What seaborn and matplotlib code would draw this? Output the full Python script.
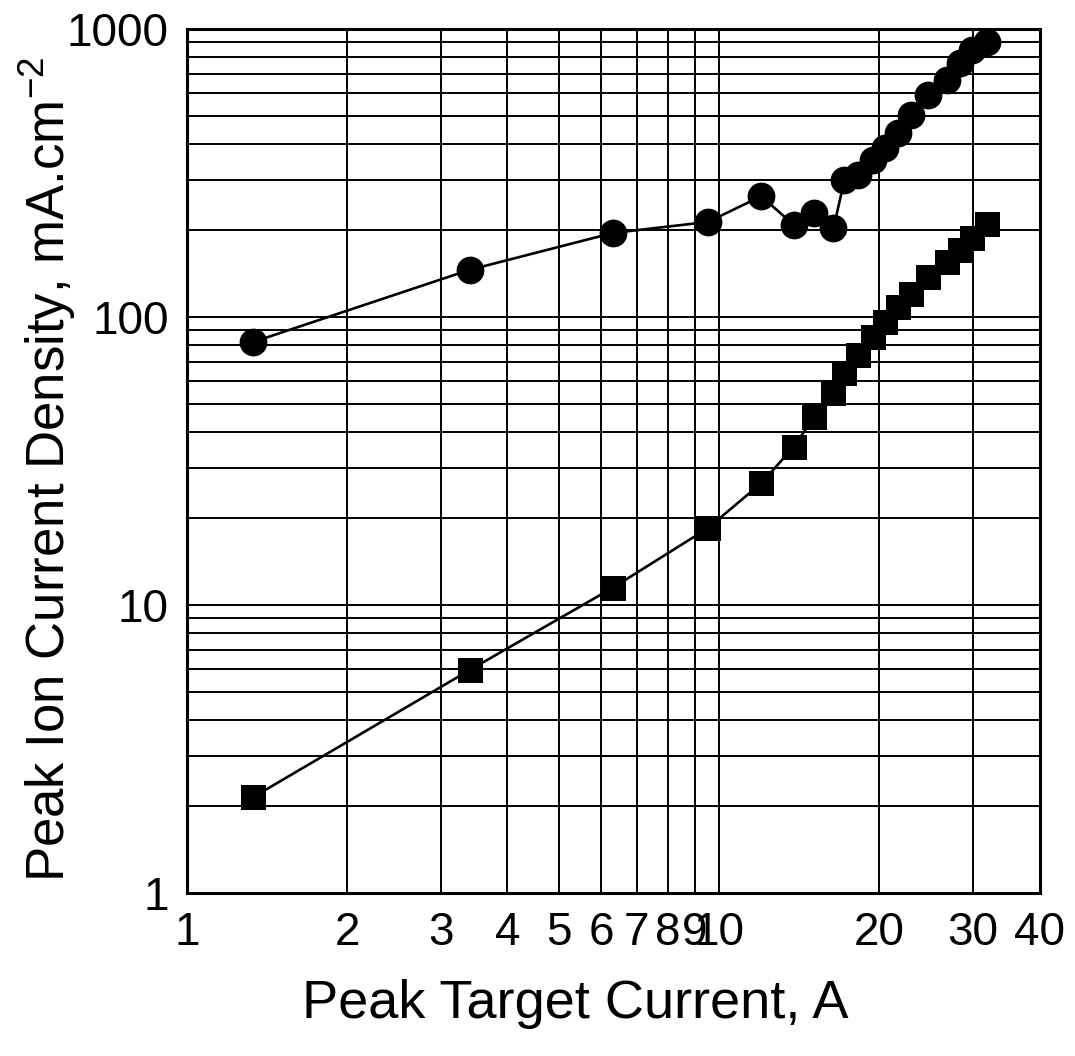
"""Peak ion current density vs peak target current (log-log)."""

import numpy as np
import pandas as pd
import matplotlib
matplotlib.use("Agg")
import matplotlib.pyplot as plt
from matplotlib.ticker import FixedLocator, FixedFormatter, NullFormatter
import seaborn as sns

# ---------------------------------------------------------------------------
# Data
# ---------------------------------------------------------------------------
target_current = [1.33, 3.40, 6.32, 9.53, 12.0, 13.8, 15.1, 16.4, 17.2, 18.2,
                  19.5, 20.5, 21.7, 22.9, 24.7, 26.8, 28.4, 29.9, 31.9]

circle_density = [81.9, 146, 196, 214, 263, 209, 230, 204, 299, 311,
                  351, 386, 435, 503, 590, 665, 762, 846, 901]

square_density = [2.15, 5.95, 11.5, 18.5, 26.5, 35.4, 45.0, 54.5, 63.9, 73.8,
                  85.2, 96.1, 108, 120, 138, 155, 171, 188, 210]

x_ticks = [1, 2, 3, 4, 5, 6, 7, 8, 9, 10, 20, 30, 40]
x_tick_labels = ["1", "2", "3", "4", "5", "6", "7", "8", "9", "10", "20", "30", "40"]
y_major = [1, 10, 100, 1000]
y_major_labels = ["1", "10", "100", "1000"]

df = pd.DataFrame({
    "current": target_current,
    "circle": circle_density,
    "square": square_density,
})

# ---------------------------------------------------------------------------
# Style
# ---------------------------------------------------------------------------
sns.set_style("white")
plt.rcParams["font.family"] = ["Liberation Sans", "DejaVu Sans"]
plt.rcParams["mathtext.fontset"] = "custom"
plt.rcParams["mathtext.rm"] = "Liberation Sans"
plt.rcParams["mathtext.it"] = "Liberation Sans"
plt.rcParams["text.color"] = "black"
plt.rcParams["axes.labelcolor"] = "black"

fig = plt.figure(figsize=(10.75, 10.56), dpi=100)
ax = fig.add_axes([0.174, 0.1544, 0.793, 0.818])

sns.lineplot(data=df, x="current", y="circle", ax=ax, color="black",
             linewidth=1.9, marker="o", markersize=20, markeredgewidth=0,
             markerfacecolor="black", zorder=4, clip_on=False)
sns.lineplot(data=df, x="current", y="square", ax=ax, color="black",
             linewidth=1.9, marker="s", markersize=18, markeredgewidth=0,
             markerfacecolor="black", zorder=4, clip_on=False)

ax.set_xscale("log")
ax.set_yscale("log")
ax.set_xlim(1, 40)
ax.set_ylim(1, 1000)

# x axis: every tick labelled, all gridlines drawn as majors
ax.xaxis.set_major_locator(FixedLocator(x_ticks))
ax.xaxis.set_major_formatter(FixedFormatter(x_tick_labels))
ax.xaxis.set_minor_locator(FixedLocator([]))
ax.xaxis.set_minor_formatter(NullFormatter())

# y axis: decades labelled, 2..9 as minor
y_minor = [m * d for d in (1, 10, 100) for m in range(2, 10)]
ax.yaxis.set_major_locator(FixedLocator(y_major))
ax.yaxis.set_major_formatter(FixedFormatter(y_major_labels))
ax.yaxis.set_minor_locator(FixedLocator(y_minor))
ax.yaxis.set_minor_formatter(NullFormatter())

ax.grid(True, which="both", color="black", linewidth=1.4)
ax.set_axisbelow(True)

for side in ax.spines.values():
    side.set_color("black")
    side.set_linewidth(2.2)

ax.tick_params(axis="both", which="both", direction="out", color="black",
               width=1.4, length=7, labelsize=33, labelcolor="black", pad=6)
ax.tick_params(axis="x", which="major", length=9, pad=4)

ax.set_xlabel("Peak Target Current, A", fontsize=39, color="black")
ax.set_ylabel(r"Peak Ion Current Density, mA.cm$^{-2}$", fontsize=38, color="black")
ax.xaxis.set_label_coords(0.455, -0.1)
ax.yaxis.set_label_coords(-0.128, 0.49)

fig.savefig("out.png", dpi=100, facecolor="white")
